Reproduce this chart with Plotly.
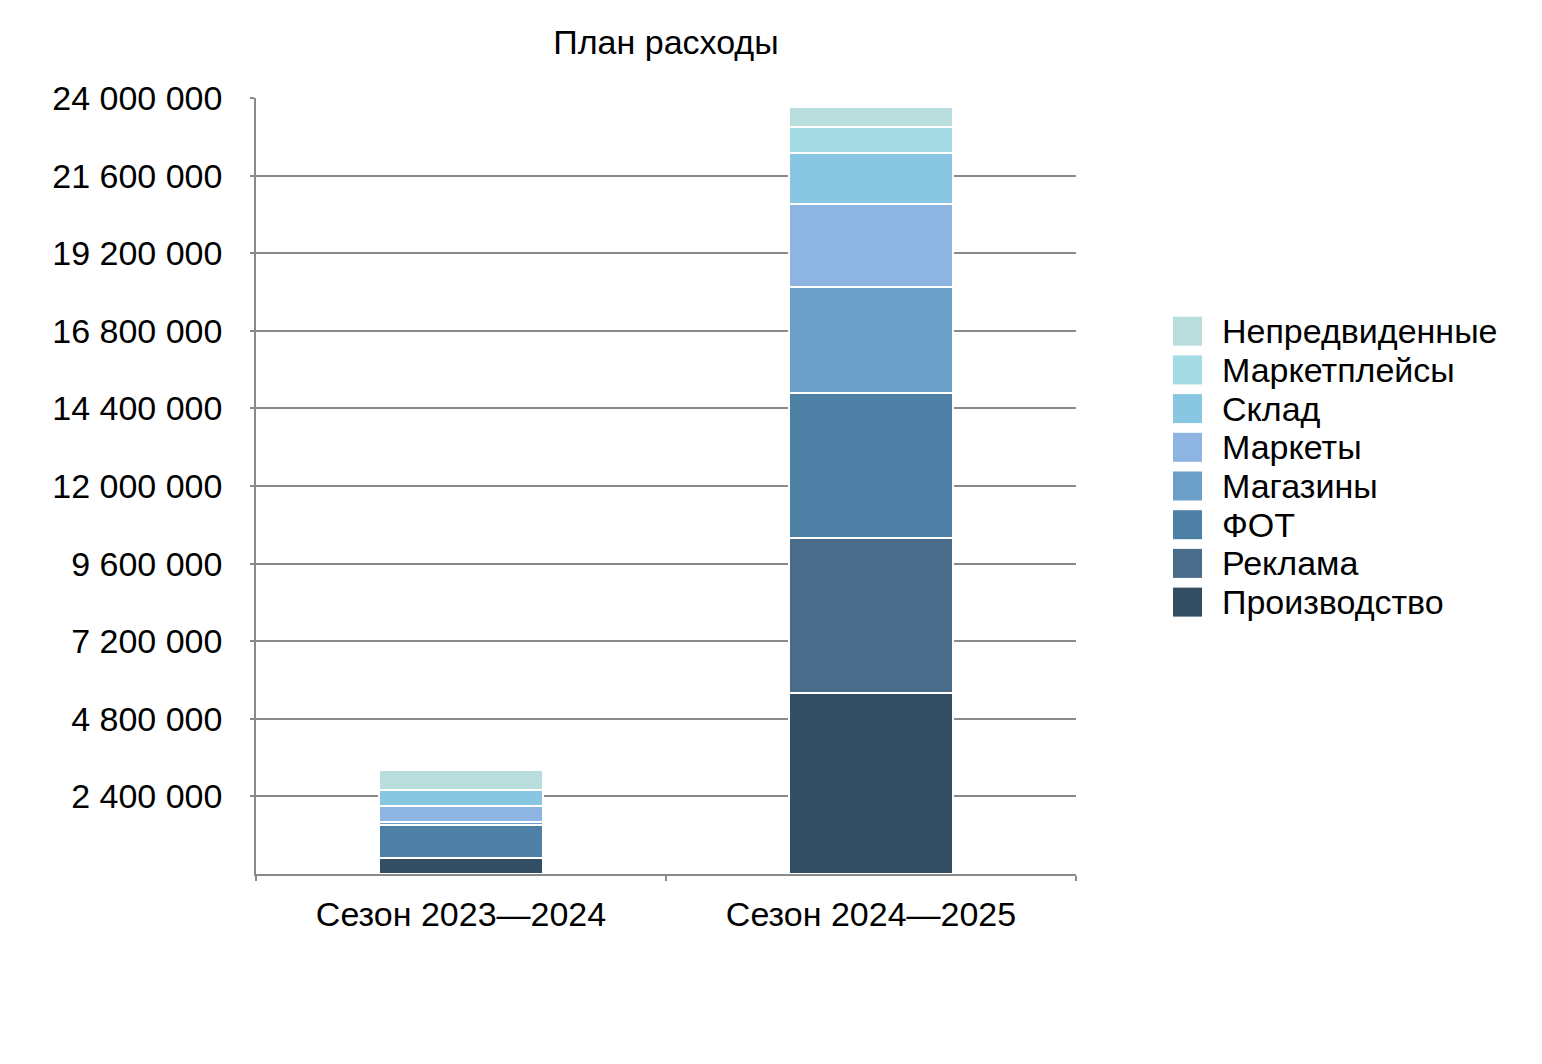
import plotly.graph_objects as go

categories = ["Сезон 2023—2024", "Сезон 2024—2025"]

series_names = ["Производство", "Реклама", "ФОТ", "Магазины",
                "Маркеты", "Склад", "Маркетплейсы", "Непредвиденные"]

proizvodstvo = [500000, 5600000]
reklama = [0, 4790000]
fot = [1020000, 4490000]
magaziny = [90000, 3280000]
markety = [500000, 2570000]
sklad = [490000, 1580000]
marketplace = [0, 800000]
nepredvid = [620000, 620000]

series_values = [proizvodstvo, reklama, fot, magaziny, markety, sklad, marketplace, nepredvid]

colors = ["#334E63", "#4A6B89", "#4E80A6", "#6A9FC8",
          "#8EB5E2", "#89C6E2", "#A4DAE4", "#B9DDDD"]

y_tick_values = [2400000, 4800000, 7200000, 9600000, 12000000,
                 14400000, 16800000, 19200000, 21600000, 24000000]
y_tick_labels = [f"{v:,}".replace(",", " ") for v in y_tick_values]

OFF = 8  # page body margin
W, H = 1542 - 2 * OFF, 1064 - 2 * OFF
# plot-area edges in page pixels
L, R, T, B = 256, 1076, 98, 874
FONT = "Liberation Sans, Arial, Helvetica, sans-serif"
FS = 34
GRID = "#8a8a8a"

fig = go.Figure()
for name, vals, col in zip(series_names, series_values, colors):
    fig.add_trace(go.Bar(
        x=categories, y=vals, name=name,
        marker=dict(color=col, line=dict(color="white", width=2)),
        showlegend=False,
    ))

pw, ph = R - L, B - T
def px_x(px):
    return (px - L) / pw
def px_y(py):
    return (B - py) / ph

top_center = 331.2
step = 38.7
for i, (name, col) in enumerate(reversed(list(zip(series_names, colors)))):
    cy = top_center + i * step
    fig.add_shape(type="rect", xref="paper", yref="paper",
                  x0=px_x(1173), x1=px_x(1202),
                  y0=px_y(cy + 14.5), y1=px_y(cy - 14.5),
                  fillcolor=col, line=dict(width=0))
    fig.add_annotation(xref="paper", yref="paper", x=px_x(1220), y=px_y(cy),
                       xanchor="left", yanchor="middle", showarrow=False,
                       text=name, font=dict(family=FONT, size=FS, color="black"))

fig.update_layout(
    width=W, height=H,
    barmode="stack",
    bargap=0.6,
    plot_bgcolor="white",
    paper_bgcolor="white",
    margin=dict(l=L - OFF, r=W - (R - OFF), t=T - OFF, b=H - (B - OFF), pad=0),
    font=dict(family=FONT, size=FS, color="black"),
    title=dict(text="План расходы", x=0.5, xref="paper", xanchor="center",
               y=(H - (42 - OFF)) / H, yref="container", yanchor="middle",
               font=dict(family=FONT, size=FS, color="black")),
    showlegend=False,
)

fig.update_yaxes(
    range=[0, 24000000],
    tickvals=y_tick_values, ticktext=y_tick_labels,
    showgrid=True, gridcolor=GRID, gridwidth=1.6,
    showline=True, linecolor=GRID, linewidth=1.6,
    ticks="outside", ticklen=4, tickcolor=GRID, tickwidth=1.6,
    zeroline=False,
    ticklabelstandoff=21,
    tickfont=dict(family=FONT, size=FS, color="black"),
)
fig.update_xaxes(
    type="category",
    showline=True, linecolor=GRID, linewidth=1.6,
    ticks="outside", tickson="boundaries", ticklen=5, tickcolor=GRID, tickwidth=1.6,
    showgrid=False,
    ticklabelstandoff=9,
    tickfont=dict(family=FONT, size=FS, color="black"),
)

fig.write_html("out.html")
